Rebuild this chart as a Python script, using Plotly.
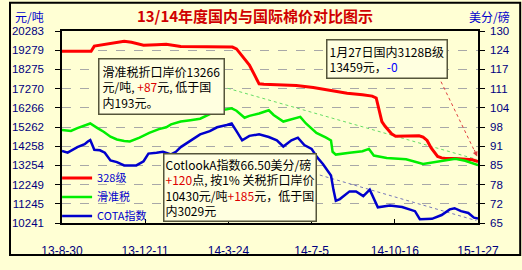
import plotly.graph_objects as go

# ---------------- data ----------------
red_dates = ["2013-08-30","2013-10-05","2013-10-09","2013-10-25","2013-11-15","2013-11-24","2013-12-09","2013-12-25",
             "2014-01-06","2014-01-24","2014-02-23","2014-03-29","2014-04-03","2014-04-07","2014-04-13","2014-04-19",
             "2014-04-25","2014-05-01","2014-05-07","2014-05-31","2014-06-16","2014-07-07","2014-07-28","2014-08-18",
             "2014-09-06","2014-09-18","2014-09-23","2014-09-26","2014-09-30","2014-10-04","2014-10-12","2014-10-17",
             "2014-11-05","2014-11-15","2014-11-20","2014-11-25","2014-11-30","2014-12-05","2014-12-08","2014-12-13",
             "2014-12-18","2014-12-30","2015-01-11","2015-01-20","2015-01-27"]
red_vals = [19223,19223,19494,19593,19741,19692,19543,19568,
            19593,19469,19469,19445,19346,19149,18853,18507,
            18014,17520,17495,17471,17436,17323,17175,17027,
            16953,16879,16780,16188,15546,15299,14905,14781,
            14781,14806,14732,14559,14164,13868,13720,13646,
            13621,13621,13597,13547,13459]

green_dates = ["2013-08-30","2013-09-10","2013-09-18","2013-10-01","2013-10-04","2013-10-13","2013-10-21","2013-10-29",
               "2013-11-06","2013-11-15","2013-11-22","2013-12-04","2013-12-16","2013-12-28","2014-01-06","2014-01-12",
               "2014-01-24","2014-02-05","2014-02-17","2014-03-01","2014-03-10","2014-03-22","2014-03-28","2014-04-03",
               "2014-04-13","2014-04-19","2014-05-01","2014-05-13","2014-05-19","2014-05-31","2014-06-09","2014-06-16",
               "2014-06-21","2014-06-28","2014-07-11","2014-07-23","2014-07-29","2014-07-31","2014-08-04","2014-08-21",
               "2014-09-06","2014-09-14","2014-09-20","2014-10-06","2014-10-30","2014-11-20","2014-12-14","2014-12-30",
               "2015-01-11","2015-01-20","2015-01-27"]
green_vals = [15102,15053,15201,15398,15447,15201,15003,14757,
              14608,14534,14510,14707,14954,15151,15250,15398,
              15546,15620,15694,15941,16114,16188,16237,16114,
              15744,15842,15966,16138,15892,15546,15645,15719,
              15793,15447,14954,14707,14559,13967,13819,13918,
              13992,14115,13770,13646,13572,13325,13473,13597,
              13498,13375,13266]

blue_dates = ["2013-08-30","2013-09-06","2013-09-18","2013-09-27","2013-10-01","2013-10-04","2013-10-09","2013-10-16",
              "2013-10-22","2013-10-29","2013-11-06","2013-11-15","2013-11-22","2013-11-30","2013-12-09","2013-12-15",
              "2013-12-25","2014-01-02","2014-01-12","2014-01-18","2014-01-24","2014-02-05","2014-02-17","2014-03-01",
              "2014-03-10","2014-03-22","2014-03-28","2014-04-03","2014-04-10","2014-04-19","2014-05-01","2014-05-13",
              "2014-05-23","2014-05-31","2014-06-10","2014-06-18","2014-06-26","2014-07-05","2014-07-12","2014-07-19",
              "2014-07-29","2014-08-01","2014-08-04","2014-08-09","2014-08-21","2014-08-29","2014-09-07","2014-09-15",
              "2014-09-25","2014-10-10","2014-10-25","2014-11-10","2014-11-16","2014-12-01","2014-12-13","2014-12-23",
              "2014-12-29","2015-01-06","2015-01-15","2015-01-22","2015-01-27"]
blue_vals = [89.4,88.8,90.7,91.7,92.6,93.1,89.8,89.6,
             88.8,86.2,85.6,84.5,84.5,84.5,85.9,88.5,
             88.8,89.1,88.2,89.1,90.7,93.0,95.0,96.1,
             97.4,98.2,98.7,96.1,93.0,94.5,95.0,94.1,
             93.0,90.9,93.0,93.9,91.4,90.1,87.2,85.0,
             81.1,76.3,72.5,73.1,75.7,75.7,74.1,76.3,
             70.3,70.9,70.4,69.0,66.3,66.4,67.7,69.6,
             70.0,69.0,68.4,66.8,66.5]

# dotted connector lines from the callout boxes
green_conn_dates = ["2014-03-16", "2015-01-25"]
green_conn_vals = [17372, 13572]
blue_conn_dates = ["2014-07-08", "2015-01-25"]
blue_conn_vals = [81.8, 65.8]
red_conn_dates = ["2014-12-09", "2015-01-26"]
red_conn_vals = [17915, 13720]

x_tick_dates = ["2013-08-30", "2013-12-11", "2014-03-24", "2014-07-05", "2014-10-16", "2015-01-27"]
x_tick_text = ["13-8-30", "13-12-11", "14-3-24", "14-7-5", "14-10-16", "15-1-27"]
left_tick_vals = [10241, 11245.2, 12249.4, 13253.6, 14257.8, 15262, 16266.2, 17270.4, 18274.6, 19278.8, 20283]
left_tick_text = ["10241", "11245", "12249", "13254", "14258", "15262", "16266", "17270", "18275", "19279", "20283"]
right_tick_vals = [65, 71.5, 78, 84.5, 91, 97.5, 104, 110.5, 117, 123.5, 130]
right_tick_text = ["65", "72", "78", "85", "91", "98", "104", "111", "117", "124", "130"]

# ---------------- styling ----------------
BG = "#FFFFD4"
TICK_C = "#000080"
CJK = "Noto Sans CJK SC"
LAT = "Liberation Sans, Arial"

fig = go.Figure()

fig.add_trace(go.Scatter(x=green_conn_dates, y=green_conn_vals, mode="lines",
                         line=dict(color="#66DD66", width=1, dash="dot"), showlegend=False, hoverinfo="skip"))
fig.add_trace(go.Scatter(x=blue_conn_dates, y=blue_conn_vals, mode="lines", yaxis="y2",
                         line=dict(color="#7777BB", width=1, dash="dot"), showlegend=False, hoverinfo="skip"))
fig.add_trace(go.Scatter(x=red_conn_dates, y=red_conn_vals, mode="lines",
                         line=dict(color="#E04040", width=1, dash="dot"), showlegend=False, hoverinfo="skip"))

fig.add_trace(go.Scatter(x=red_dates, y=red_vals, mode="lines", name="328级",
                         line=dict(color="#FF0000", width=3)))
fig.add_trace(go.Scatter(x=green_dates, y=green_vals, mode="lines", name="滑准税",
                         line=dict(color="#00EE00", width=2.5)))
fig.add_trace(go.Scatter(x=blue_dates, y=blue_vals, mode="lines", name="COTA指数", yaxis="y2",
                         line=dict(color="#0000CC", width=2.5)))

W, H = 522, 270
L, R, T, B = 54, 44, 31, 35
pw, ph = W - L - R, H - T - B


def px(xp):
    return (xp - L) / pw


def py(yp):
    return (H - B - yp) / ph


def box(text, cx, cy, pad):
    return dict(text=text, x=px(cx), y=py(cy), xref="paper", yref="paper", showarrow=False, align="left",
                xanchor="center", yanchor="middle",
                font=dict(family=CJK, size=12, color="black"), bgcolor="#FFFFE0",
                bordercolor="#55553A", borderwidth=1.5, borderpad=pad)


annotations = [
    # axis unit titles
    dict(text="元/吨", x=px(21), y=py(16), xref="paper", yref="paper", showarrow=False,
         xanchor="center", yanchor="middle", font=dict(family=CJK, size=12, color="#0000CC")),
    dict(text="美分/磅", x=px(490), y=py(16), xref="paper", yref="paper", showarrow=False,
         xanchor="center", yanchor="middle", font=dict(family=CJK, size=12, color="#0000CC")),
    # callout boxes
    box("滑准税折口岸价13266<br>元/吨, <span style='color:#DD0000'>+87</span>元, 低于国<br>内193元。", 155, 89.5, 3),
    box("1月27日国内3128B级<br>13459元，<span style='color:#0000FF'>-0</span>", 385, 61, 2),
    box("CotlookA指数66.50美分/磅<br><span style='color:#DD0000'>+120</span>点, 按1% 关税折口岸价<br>"
        "10430元/吨<span style='color:#DD0000'>+185</span>元，低于国<br>内3029元", 235.5, 197, 1),
    # arrowhead of red dotted connector
    dict(text="", x=red_conn_dates[1], y=red_conn_vals[1], xref="x", yref="y", showarrow=True,
         ax=-3.5, ay=-8, arrowhead=2, arrowsize=1, arrowwidth=1, arrowcolor="#E04040"),
]

fig.update_layout(
    width=W, height=H, autosize=False,
    margin=dict(l=L, r=R, t=T, b=B, pad=0),
    paper_bgcolor=BG, plot_bgcolor=BG,
    title=dict(text="<b>13/14年度国内与国际棉价对比图示</b>", x=255 / W, y=1 - 17 / H,
               xanchor="center", yanchor="middle", xref="container", yref="container",
               font=dict(family=CJK, size=15, color="#D00000")),
    xaxis=dict(type="date", range=["2013-08-30", "2015-01-27"], tickvals=x_tick_dates, ticktext=x_tick_text,
               ticks="inside", ticklen=4, tickcolor="black", showline=True, mirror=True, linecolor="black",
               linewidth=1.5, showgrid=False, zeroline=False, ticklabelstandoff=16,
               tickfont=dict(family=LAT, size=12, color=TICK_C)),
    yaxis=dict(range=[10241, 20283], tickvals=left_tick_vals, ticktext=left_tick_text, ticks="outside",
               ticklen=5, tickcolor="black", showline=True, mirror=True, linecolor="black", linewidth=1.5,
               showgrid=True, gridcolor="#A8A8A8", griddash="dash", gridwidth=1, zeroline=False,
               ticklabelstandoff=9, tickfont=dict(family=LAT, size=11.5, color=TICK_C)),
    yaxis2=dict(range=[65, 130], tickvals=right_tick_vals, ticktext=right_tick_text, overlaying="y",
                side="right", ticks="outside", ticklen=5, tickcolor="black", showline=True,
                linecolor="black", linewidth=1.5, showgrid=False, zeroline=False, ticklabelstandoff=3,
                tickfont=dict(family=LAT, size=11.5, color=TICK_C)),
    legend=dict(x=px(49), y=py(243), xanchor="left", yanchor="bottom", bgcolor="rgba(0,0,0,0)",
                font=dict(family=CJK, size=11, color="#0000CC"), tracegroupgap=0, itemwidth=30),
    annotations=annotations,
    shapes=[dict(type="rect", xref="paper", yref="paper", x0=px(1), x1=px(W - 1), y0=py(H - 1), y1=py(1),
                 line=dict(color="black", width=2), layer="above")],
    showlegend=True,
)

fig.write_html("out.html")
